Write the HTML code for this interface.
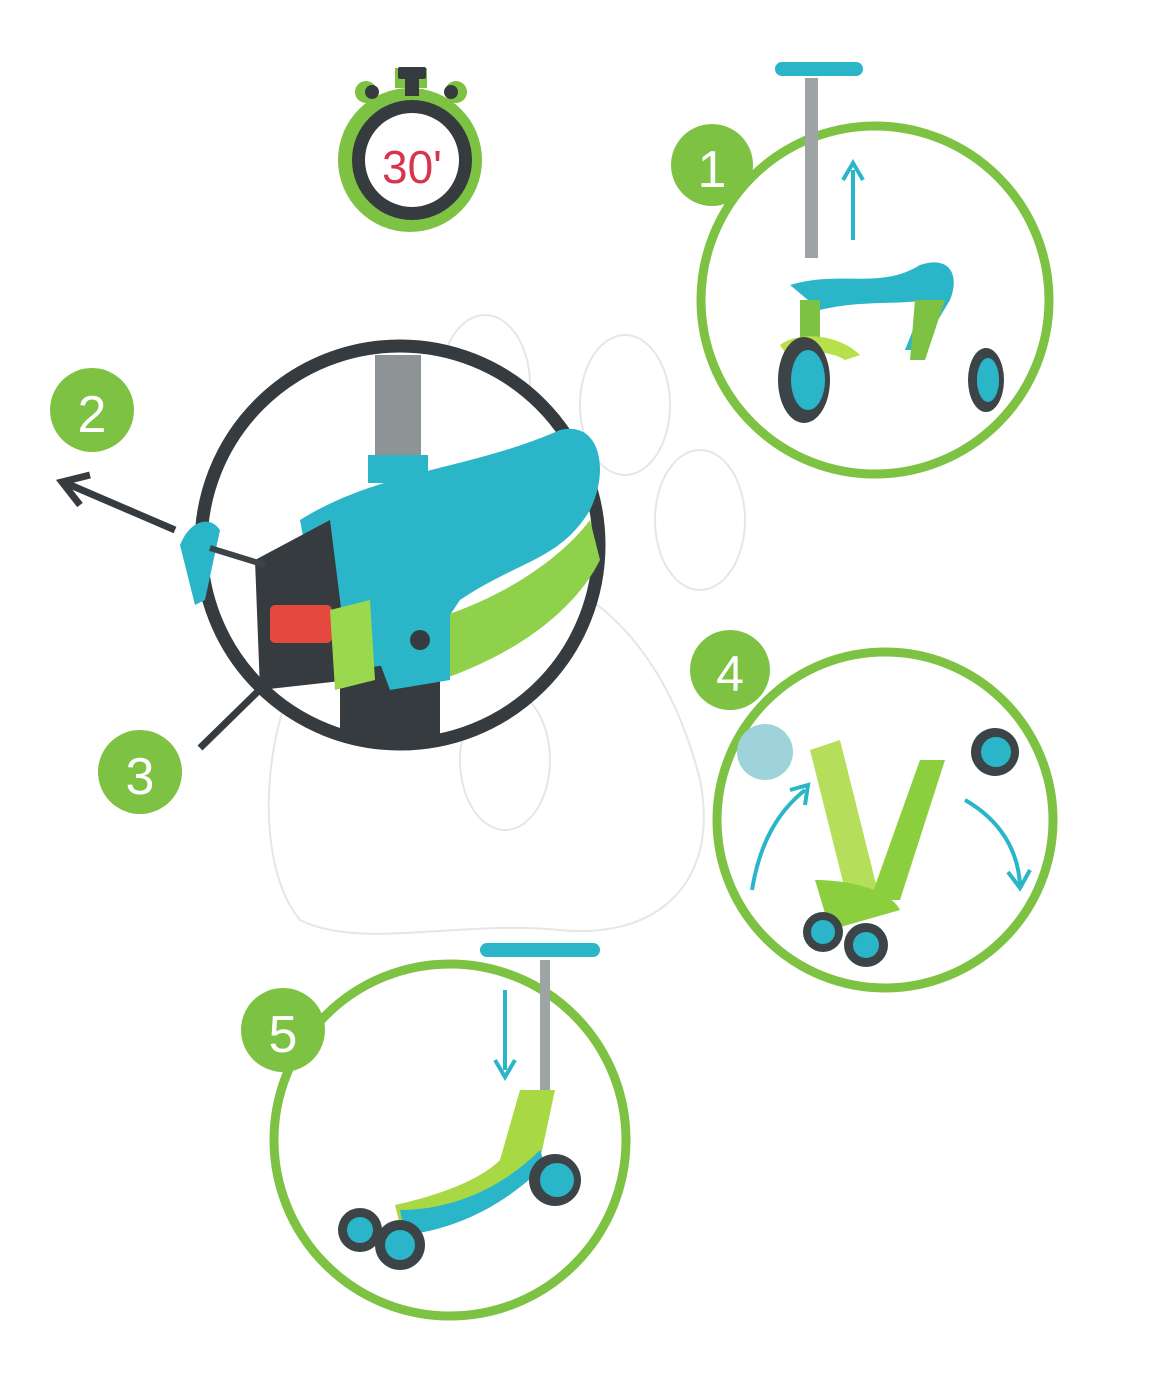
<!DOCTYPE html>
<html><head><meta charset="utf-8"><style>
html,body{margin:0;padding:0;background:#fff}
svg{display:block}
text{font-family:"Liberation Sans",sans-serif}
</style></head><body>
<svg width="1166" height="1400" viewBox="0 0 1166 1400" xmlns="http://www.w3.org/2000/svg">
<g fill="none" stroke="#e6e6e6" stroke-width="2">
<ellipse cx="485" cy="385" rx="45" ry="70"/>
<ellipse cx="625" cy="405" rx="45" ry="70"/>
<ellipse cx="700" cy="520" rx="45" ry="70"/>
<ellipse cx="505" cy="760" rx="45" ry="70"/>
<path d="M330 620 C260 700 250 860 300 920 C360 950 460 920 560 930 C660 940 720 880 700 780 C660 620 560 560 470 560 Z"/>
</g>
<!-- stopwatch -->
<g>
<circle cx="410" cy="160" r="72" fill="#7dc242"/>
<rect x="395" y="68" width="32" height="20" fill="#7dc242"/>
<rect x="398" y="67" width="28" height="12" rx="2" fill="#353b3f"/>
<rect x="405" y="76" width="14" height="20" fill="#353b3f"/>
<circle cx="366" cy="92" r="11" fill="#7dc242"/><circle cx="456" cy="92" r="11" fill="#7dc242"/>
<circle cx="372" cy="92" r="7" fill="#353b3f"/><circle cx="451" cy="92" r="7" fill="#353b3f"/>
<circle cx="412" cy="160" r="60" fill="#353b3f"/>
<circle cx="412" cy="160" r="47" fill="#fff"/>
<text x="412" y="183" text-anchor="middle" font-size="46" fill="#d8344d">30'</text>
</g>
<!-- circle 1 -->
<circle cx="875" cy="300" r="174" fill="#fff" stroke="#7dc242" stroke-width="9"/>
<rect x="805" y="78" width="13" height="180" fill="#9ea3a6"/>
<rect x="775" y="62" width="88" height="14" rx="7" fill="#2bb5c8"/>
<path d="M853 240 V170" stroke="#2bb5c8" stroke-width="4"/><path d="M843 180 L853 163 L863 180" fill="none" stroke="#2bb5c8" stroke-width="4"/>
<path d="M790 285 C840 270 880 290 920 265 C950 255 960 275 950 300 L920 350 L905 350 L925 300 C900 305 860 300 820 310 Z" fill="#2bb5c8"/>
<path d="M915 300 L945 300 L925 360 L910 360 Z" fill="#7dc242"/>
<rect x="800" y="300" width="20" height="45" fill="#7dc242"/>
<path d="M780 345 C800 330 840 335 860 355 L845 360 C830 350 800 350 790 360 Z" fill="#b7e04a"/>
<ellipse cx="804" cy="380" rx="26" ry="43" fill="#3d4448"/><ellipse cx="808" cy="380" rx="17" ry="30" fill="#2bb5c8"/>
<ellipse cx="986" cy="380" rx="18" ry="32" fill="#3d4448"/><ellipse cx="988" cy="380" rx="11" ry="22" fill="#2bb5c8"/>
<circle cx="712" cy="165" r="41" fill="#7dc242"/>
<text x="712" y="187" text-anchor="middle" font-size="52" fill="#fff">1</text>
<!-- circle 2/3 -->
<circle cx="400" cy="545" r="199" fill="#fff" stroke="#353b3f" stroke-width="13"/>
<rect x="375" y="355" width="46" height="115" fill="#8e9396"/>
<rect x="368" y="455" width="60" height="28" fill="#2bb5c8"/>
<path d="M300 520 C380 470 470 470 560 430 C600 420 610 470 590 510 C560 560 520 560 460 600 L420 660 L330 680 Z" fill="#2bb5c8"/>
<path d="M430 620 C500 600 560 560 590 520 L600 560 C570 620 500 660 440 680 Z" fill="#8fd14a"/>
<path d="M255 560 L330 520 L350 680 L260 690 Z" fill="#353b3f"/>
<path d="M340 740 V670 L440 660 V740 Z" fill="#353b3f"/>
<path d="M360 610 C380 580 430 580 450 610 L450 680 L390 690 Z" fill="#2bb5c8"/>
<circle cx="420" cy="640" r="10" fill="#353b3f"/>
<rect x="270" y="605" width="62" height="38" rx="5" fill="#e5483f"/>
<path d="M330 610 L370 600 L375 680 L335 690 Z" fill="#9ad84e"/>
<path d="M180 545 C190 520 210 515 220 530 L205 600 L195 605 Z" fill="#2bb5c8"/>
<path d="M210 548 L265 565" stroke="#3d4448" stroke-width="6"/>
<path d="M175 530 L68 484" stroke="#353b3f" stroke-width="7"/><path d="M90 475 L62 482 L80 505" fill="none" stroke="#353b3f" stroke-width="7"/>
<path d="M200 748 L290 660" stroke="#353b3f" stroke-width="7"/><path d="M270 655 L295 652 L292 678" fill="none" stroke="#353b3f" stroke-width="7"/>
<circle cx="92" cy="410" r="42" fill="#7dc242"/>
<text x="92" y="432" text-anchor="middle" font-size="52" fill="#fff">2</text>
<circle cx="140" cy="772" r="42" fill="#7dc242"/>
<text x="140" y="794" text-anchor="middle" font-size="52" fill="#fff">3</text>
<!-- circle 4 -->
<circle cx="885" cy="820" r="168" fill="#fff" stroke="#7dc242" stroke-width="9"/>
<path d="M810 750 L840 740 L880 900 L850 910 Z" fill="#b5de5a"/>
<path d="M920 760 L945 760 L900 900 L870 900 Z" fill="#8ccf3e"/>
<path d="M815 880 C850 880 890 890 900 910 L830 930 Z" fill="#8ccf3e"/>
<circle cx="765" cy="752" r="28" fill="#9fd3dc"/><circle cx="995" cy="752" r="24" fill="#3d4448"/><circle cx="996" cy="752" r="15" fill="#2bb5c8"/>
<circle cx="823" cy="932" r="20" fill="#3d4448"/><circle cx="823" cy="932" r="12" fill="#2bb5c8"/>
<circle cx="866" cy="945" r="22" fill="#3d4448"/><circle cx="866" cy="945" r="13" fill="#2bb5c8"/>
<path d="M752 890 C760 840 780 810 805 790" fill="none" stroke="#2bb5c8" stroke-width="4"/><path d="M790 790 L808 785 L805 805" fill="none" stroke="#2bb5c8" stroke-width="4"/>
<path d="M965 800 C1000 820 1018 850 1020 885" fill="none" stroke="#2bb5c8" stroke-width="4"/><path d="M1008 872 L1020 888 L1030 870" fill="none" stroke="#2bb5c8" stroke-width="4"/>
<circle cx="730" cy="670" r="40" fill="#7dc242"/>
<text x="730" y="691" text-anchor="middle" font-size="50" fill="#fff">4</text>
<!-- circle 5 -->
<circle cx="450" cy="1140" r="176" fill="#fff" stroke="#7dc242" stroke-width="9"/>
<rect x="540" y="960" width="10" height="130" fill="#9ea3a6"/>
<rect x="480" y="943" width="120" height="14" rx="7" fill="#2bb5c8"/>
<path d="M505 990 V1070" stroke="#2bb5c8" stroke-width="4"/><path d="M495 1060 L505 1077 L515 1060" fill="none" stroke="#2bb5c8" stroke-width="4"/>
<path d="M520 1090 L555 1090 L540 1160 C500 1200 450 1220 400 1225 L395 1205 C440 1195 480 1180 500 1160 Z" fill="#a8d944"/>
<path d="M400 1210 C450 1210 500 1190 540 1150 L545 1165 C500 1210 450 1230 405 1235 Z" fill="#2bb5c8"/>
<circle cx="555" cy="1180" r="26" fill="#3d4448"/><circle cx="557" cy="1180" r="17" fill="#2bb5c8"/>
<circle cx="360" cy="1230" r="22" fill="#3d4448"/><circle cx="360" cy="1230" r="13" fill="#2bb5c8"/>
<circle cx="400" cy="1245" r="25" fill="#3d4448"/><circle cx="400" cy="1245" r="15" fill="#2bb5c8"/>
<circle cx="283" cy="1030" r="42" fill="#7dc242"/>
<text x="283" y="1052" text-anchor="middle" font-size="52" fill="#fff">5</text>
</svg>
</body></html>
